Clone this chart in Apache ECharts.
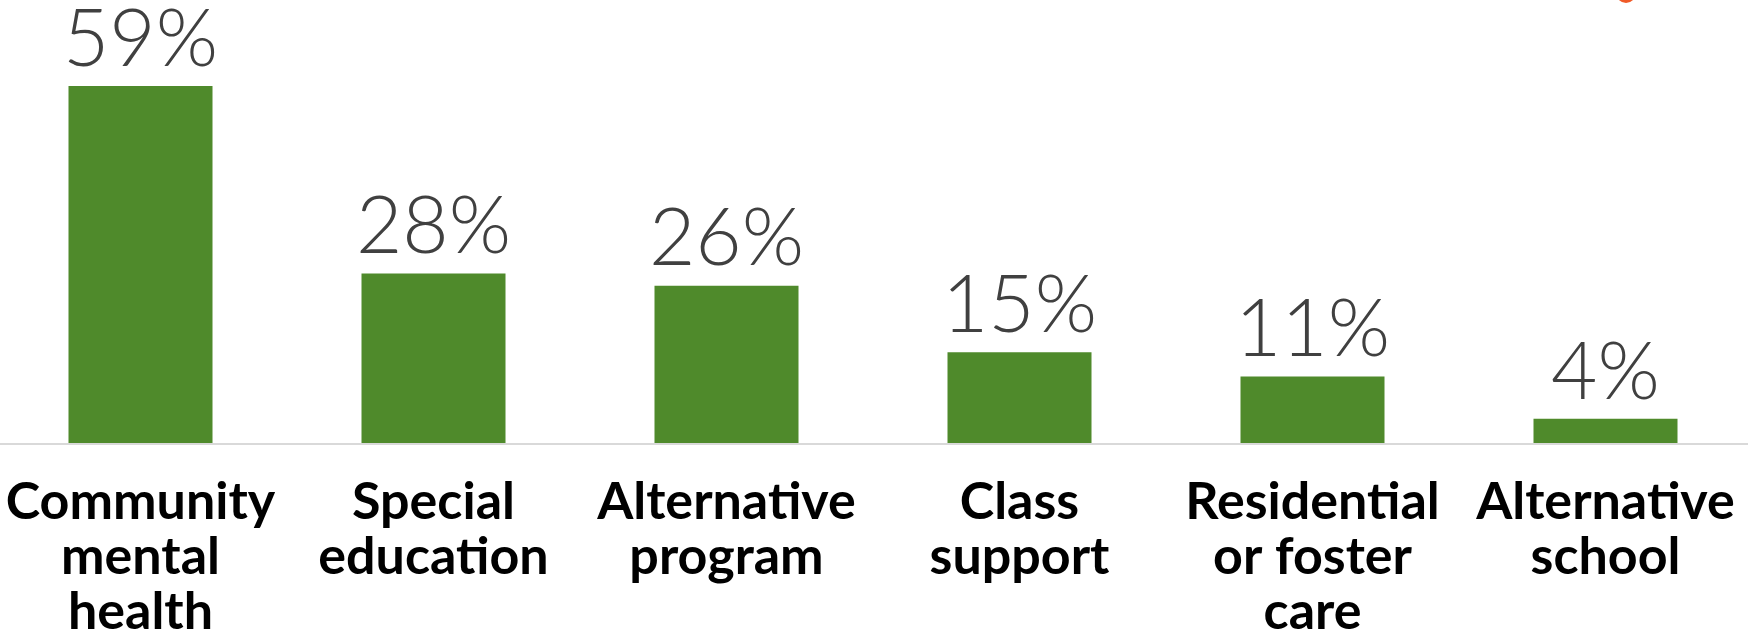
<!DOCTYPE html>
<html>
<head>
<meta charset="utf-8">
<script src="https://cdn.jsdelivr.net/npm/echarts@6/dist/echarts.min.js"></script>
<style>
  html, body { margin: 0; padding: 0; background: #ffffff; }
  #chart { width: 1748px; height: 637px; }
</style>
</head>
<body>
<div id="chart"></div>
<script>
// Where students were referred for support
const categories = [
  'Community\nmental\nhealth',
  'Special\neducation',
  'Alternative\nprogram',
  'Class\nsupport',
  'Residential\nor foster\ncare',
  'Alternative\nschool'
];
const shares = [59, 28, 26, 15, 11, 4];

const chart = echarts.init(document.getElementById('chart'));

chart.setOption({
  backgroundColor: '#ffffff',
  animation: false,
  grid: {
    left: -6,
    right: -4,
    top: 19.5,
    height: 423.5,
    containLabel: false,
    outerBoundsMode: 'none'
  },
  xAxis: {
    type: 'category',
    data: categories,
    axisTick: { show: false },
    axisLine: { show: false },
    axisLabel: {
      interval: 0,
      margin: 32,
      color: '#000000',
      fontFamily: 'Lato, sans-serif',
      fontWeight: 'bold',
      fontSize: 52,
      lineHeight: 55,
      align: 'center'
    }
  },
  yAxis: {
    type: 'value',
    min: 0,
    max: 70,
    show: false,
    splitLine: { show: false }
  },
  series: [{
    type: 'bar',
    data: shares,
    barWidth: 144,
    itemStyle: { color: '#4f8a2b' },
    label: {
      show: true,
      position: 'top',
      distance: 6,
      formatter: '{c}%',
      color: '#404040',
      fontFamily: 'Lato, sans-serif',
      fontWeight: 300,
      fontSize: 80
    }
  }],
  graphic: [
    // baseline across the full width
    {
      type: 'line',
      shape: { x1: 0, y1: 444, x2: 1748, y2: 444 },
      style: { stroke: '#d9d9d9', lineWidth: 2 },
      z: 10
    },
    // clipped accent mark at the top edge
    {
      type: 'circle',
      shape: { cx: 1626, cy: -7, r: 10 },
      style: { fill: '#f05a28' }
    }
  ]
});
</script>
</body>
</html>
